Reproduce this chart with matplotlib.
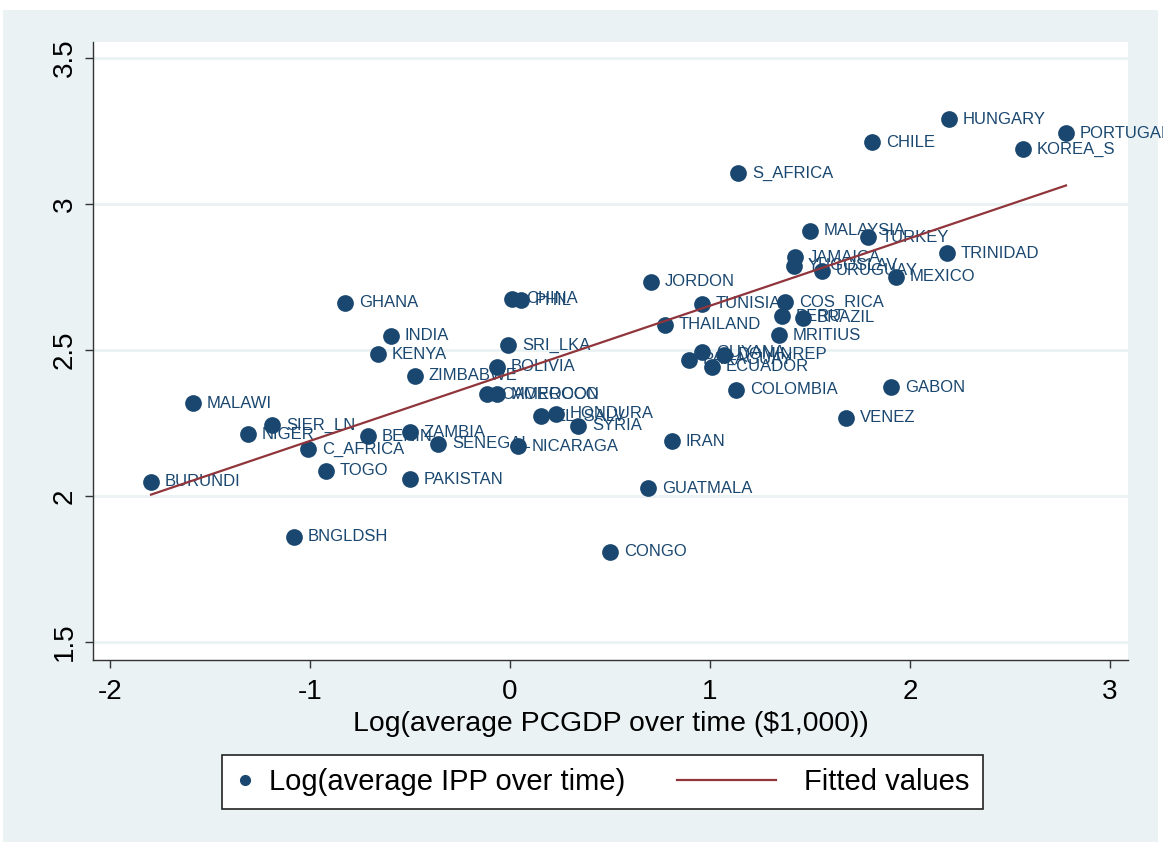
import matplotlib
matplotlib.use('Agg')
import matplotlib.pyplot as plt
import numpy as np
from matplotlib.legend_handler import HandlerLine2D
from matplotlib.lines import Line2D
from matplotlib.patches import Rectangle

plt.rcParams['font.family'] = ['Liberation Sans', 'DejaVu Sans']
plt.rcParams['axes.unicode_minus'] = False

countries = [
    'HUNGARY', 'PORTUGAL', 'KOREA_S', 'CHILE', 'S_AFRICA', 'MALAYSIA', 'TURKEY',
    'TRINIDAD', 'JAMAICA', 'YUGOSLAV', 'URUGUAY', 'MEXICO', 'JORDON', 'TUNISIA',
    'COS_RICA', 'PERU', 'BRAZIL', 'THAILAND', 'MRITIUS', 'PARAGUAY', 'GUYANA',
    'ECUADOR', 'DOMINREP', 'COLOMBIA', 'GABON', 'VENEZ', 'IRAN', 'GUATMALA',
    'CONGO', 'GHANA', 'INDIA', 'KENYA', 'ZIMBABWE', 'CHINA', 'PHIL', 'SRI_LKA',
    'BOLIVIA', 'CAMEROON', 'MOROCCO', 'EL_SALV', 'HONDURA', 'SYRIA', 'NICARAGA',
    'SENEGAL', 'ZAMBIA', 'BENIN', 'MALAWI', 'NIGER', 'SIER_LN', 'C_AFRICA',
    'TOGO', 'PAKISTAN', 'BURUNDI', 'BNGLDSH',
]
log_gdp = [
    2.195, 2.78, 2.565, 1.81, 1.14, 1.50, 1.79,
    2.185, 1.425, 1.42, 1.56, 1.93, 0.705, 0.96,
    1.375, 1.36, 1.465, 0.775, 1.345, 0.895, 0.96,
    1.01, 1.07, 1.13, 1.905, 1.68, 0.81, 0.69,
    0.50, -0.825, -0.595, -0.66, -0.475, 0.01, 0.055, -0.01,
    -0.065, -0.115, -0.065, 0.155, 0.23, 0.34, 0.04,
    -0.36, -0.50, -0.71, -1.585, -1.31, -1.19, -1.01,
    -0.92, -0.50, -1.795, -1.08,
]
log_ipp = [
    3.291, 3.243, 3.188, 3.212, 3.106, 2.908, 2.887,
    2.832, 2.818, 2.788, 2.771, 2.750, 2.733, 2.658,
    2.664, 2.616, 2.610, 2.586, 2.551, 2.466, 2.493,
    2.442, 2.483, 2.363, 2.373, 2.267, 2.188, 2.027,
    1.808, 2.661, 2.548, 2.486, 2.411, 2.675, 2.671, 2.517,
    2.442, 2.349, 2.349, 2.274, 2.281, 2.240, 2.171,
    2.178, 2.219, 2.205, 2.318, 2.212, 2.243, 2.161,
    2.086, 2.058, 2.048, 1.860,
]
# fitted values line
fit_intercept = 2.42
fit_slope = 0.2315

navy = '#1a476f'
maroon = '#90353b'
bluish = '#eaf2f3'

x = np.array(log_gdp)
y = np.array(log_ipp)
xfit = np.array([x.min(), x.max()])
yfit = fit_intercept + fit_slope * xfit

fig = plt.figure(figsize=(11.63, 8.42), dpi=100, facecolor='white')
fig.patches.append(Rectangle((3 / 1163, 0), 1155 / 1163, 832 / 842,
                             transform=fig.transFigure, facecolor=bluish,
                             edgecolor='none', zorder=-10))
ax = fig.add_axes([93 / 1163, 1 - 660 / 842, 1035 / 1163, 618 / 842])
ax.set_facecolor('white')

ax.scatter(x, y, s=145, color=navy, zorder=3, linewidths=0)
for name, xi, yi in zip(countries, x, y):
    ax.annotate(name, (xi, yi), xytext=(10, 0), textcoords='offset points',
                va='center', ha='left', fontsize=12, color=navy, zorder=4)
ax.plot(xfit, yfit, color=maroon, lw=1.6, zorder=5)

ax.set_xlim(-2.085, 3.09)
ax.set_ylim(1.438, 3.555)
ax.set_xticks([-2, -1, 0, 1, 2, 3])
ax.set_yticks([1.5, 2, 2.5, 3, 3.5])
ax.set_yticklabels(['1.5', '2', '2.5', '3', '3.5'])
ax.grid(axis='y', color=bluish, lw=2, zorder=0)
ax.set_axisbelow(True)
for side in ['top', 'right']:
    ax.spines[side].set_visible(False)
for side in ['left', 'bottom']:
    ax.spines[side].set_color('#333333')
    ax.spines[side].set_linewidth(1)
ax.tick_params(axis='both', length=6, width=1, color='#333333', labelsize=20)
ax.tick_params(axis='x', pad=8)
ax.tick_params(axis='y', pad=5)
plt.setp(ax.get_yticklabels(), rotation=90, va='center')
ax.set_xlabel('Log(average PCGDP over time ($1,000))', fontsize=20.4, labelpad=4)


class LongLine(HandlerLine2D):
    def create_artists(self, legend, orig_handle, xdescent, ydescent,
                       width, height, fontsize, trans):
        yy = height / 2 - ydescent
        line = Line2D([-xdescent - 3.2 * fontsize, -xdescent + 0.18 * fontsize],
                      [yy, yy])
        self.update_prop(line, orig_handle, legend)
        line.set_transform(trans)
        return [line]


h_pts = Line2D([], [], ls='none', marker='o', markersize=7, color=navy)
h_fit = Line2D([], [], color=maroon, lw=1.6)
leg = fig.legend([h_pts, h_fit], ['Log(average IPP over time)', 'Fitted values'],
                 loc='center left', bbox_to_anchor=(222 / 1163, 1 - 782 / 842),
                 borderaxespad=0, ncol=2, fontsize=21, frameon=True, fancybox=False,
                 edgecolor='#222222', facecolor='white', framealpha=1,
                 handlelength=0.7, handletextpad=0.45,
                 columnspacing=5.0, borderpad=0.45, numpoints=1,
                 handler_map={h_fit: LongLine()})
leg.get_frame().set_linewidth(1.2)

fig.savefig('out.png', dpi=100, facecolor=fig.get_facecolor())
